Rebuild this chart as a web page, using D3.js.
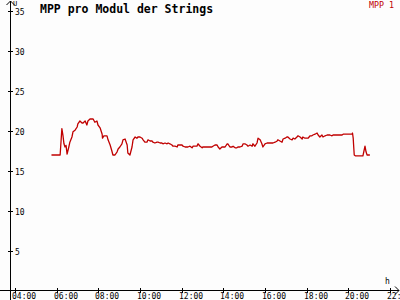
<!DOCTYPE html>
<html>
<head>
<meta charset="utf-8">
<script src="https://cdn.jsdelivr.net/npm/d3@7"></script>
<style>
  body { margin: 0; background: #fff; }
  text { font-family: "DejaVu Sans Mono", monospace; }
</style>
</head>
<body>
<div id="chart"></div>
<script>
var width = 400,
    height = 300;

// tick labels
var xTickHours = [4, 6, 8, 10, 12, 14, 16, 18, 20, 22];
var yTickValues = [5, 10, 15, 20, 25, 30, 35];

// MPP 1 series (time, volts)
var times = [
  "05:45","06:10","06:15","06:18","06:21","06:24","06:27","06:30","06:35","06:38",
  "06:44","06:47","06:53","06:59","07:01","07:07","07:13","07:16","07:22","07:27",
  "07:30","07:36","07:42","07:45","07:50","07:56","07:59","08:05","08:11","08:12",
  "08:16","08:25","08:28","08:34","08:39","08:42","08:48","08:54","08:57","09:02",
  "09:08","09:11","09:17","09:23","09:25","09:31","09:37","09:40","09:46","09:51",
  "09:54","10:00","10:06","10:09","10:14","10:20","10:23","10:29","10:35","10:37",
  "10:43","10:49","10:52","10:58","11:03","11:06","11:12","11:18","11:21","11:26",
  "11:32","11:35","11:41","11:47","11:49","11:55","12:01","12:04","12:10","12:15",
  "12:18","12:24","12:30","12:33","12:38","12:44","12:47","12:53","12:59","13:01",
  "13:07","13:13","13:16","13:22","13:27","13:30","13:36","13:42","13:45","13:50",
  "13:56","13:59","14:05","14:11","14:13","14:19","14:25","14:28","14:34","14:39",
  "14:42","14:48","14:54","14:57","15:02","15:08","15:11","15:17","15:23","15:25",
  "15:31","15:37","15:40","15:46","15:51","15:54","16:00","16:06","16:09","16:14",
  "16:20","16:23","16:29","16:35","16:37","16:43","16:49","16:52","16:58","17:03",
  "17:06","17:12","17:18","17:21","17:26","17:32","17:35","17:41","17:47","17:49",
  "17:55","18:01","18:04","18:10","18:15","18:18","18:24","18:30","18:33","18:38",
  "18:44","18:47","18:53","18:59","19:07","19:13","19:16","19:42","19:45","20:11",
  "20:12","20:14","20:17","20:20","20:42","20:45","20:48","20:51","20:54","21:02"
];
var mpp1 = [
  17.0,17.0,20.3,19.5,18.4,18.0,18.2,17.1,18.0,18.6,
  19.25,19.9,20.1,20.5,20.9,21.25,21.0,21.0,21.25,20.75,
  21.25,21.5,21.5,21.5,21.1,21.25,20.75,20.4,19.6,19.1,
  19.4,19.4,18.9,18.25,17.5,17.0,17.0,17.4,17.75,18.0,
  18.4,18.9,19.0,18.25,17.25,17.0,18.0,18.9,19.25,19.1,
  19.25,19.25,19.1,18.9,18.6,18.6,18.9,18.75,18.75,18.6,
  18.5,18.6,18.6,18.5,18.5,18.4,18.5,18.4,18.5,18.4,
  18.25,18.1,18.1,18.0,18.25,18.25,18.25,18.1,18.0,18.0,
  18.0,18.1,17.9,18.1,18.1,18.1,18.4,18.1,17.9,18.0,
  18.0,18.0,18.0,18.0,18.0,18.1,18.25,18.25,18.0,17.75,
  18.0,18.0,18.0,18.4,18.4,18.0,18.0,18.1,17.9,17.9,
  18.0,18.0,18.1,18.4,18.4,18.25,18.1,18.25,18.1,18.4,
  18.1,18.5,19.1,18.9,18.4,18.0,18.4,18.5,18.5,18.5,
  18.5,18.5,18.6,18.75,18.9,18.75,18.6,19.0,19.1,19.25,
  19.25,19.0,18.9,19.1,19.0,19.25,19.4,19.25,19.0,19.25,
  19.1,19.1,19.1,19.4,19.4,19.5,19.6,19.75,19.5,19.25,
  19.5,19.25,19.4,19.5,19.5,19.4,19.5,19.5,19.6,19.6,
  19.75,19.1,17.0,16.9,16.9,17.5,18.1,17.4,17.0,17.0
];

function toHours(s) {
    var p = s.split(":");
    return +p[0] + +p[1] / 60;
}

var data = times.map(function (t, i) { return { h: toHours(t), v: mpp1[i] }; });

var svg = d3.select("#chart")
    .append("svg")
    .attr("width", width)
    .attr("height", height)
    .style("display", "block");

svg.append("rect")
    .attr("width", width)
    .attr("height", height)
    .attr("fill", "#fdfdfd");

var x = d3.scaleLinear().domain([4, 22]).range([15, 390]);
var y = d3.scaleLinear().domain([0, 35]).range([291, 11]);

var axisX = 10,
    axisY = 290;

// y axis line with arrow
svg.append("line")
    .attr("x1", axisX + 0.5).attr("x2", axisX + 0.5)
    .attr("y1", 1).attr("y2", height)
    .attr("stroke", "#000")
    .attr("shape-rendering", "crispEdges");
svg.append("path")
    .attr("d", "M" + (axisX - 3.5) + ",5 L" + (axisX + 0.5) + ",1 L" + (axisX + 4.5) + ",5")
    .attr("fill", "none")
    .attr("stroke", "#000");

// x axis line with arrow
svg.append("line")
    .attr("x1", 0).attr("x2", 399)
    .attr("y1", axisY + 0.5).attr("y2", axisY + 0.5)
    .attr("stroke", "#000")
    .attr("shape-rendering", "crispEdges");
svg.append("path")
    .attr("d", "M395," + (axisY - 3.5) + " L399," + (axisY + 0.5) + " L395," + (axisY + 4.5))
    .attr("fill", "none")
    .attr("stroke", "#000");

// y ticks
var yt = svg.append("g").selectAll("g")
    .data(yTickValues)
    .enter().append("g")
    .attr("transform", function (d) { return "translate(0," + Math.round(y(d)) + ")"; });
yt.append("line")
    .attr("x1", axisX - 2).attr("x2", axisX + 3)
    .attr("y1", 0.5).attr("y2", 0.5)
    .attr("stroke", "#000")
    .attr("shape-rendering", "crispEdges");
yt.append("text")
    .attr("x", axisX + 5)
    .attr("y", 3.5)
    .attr("font-size", "8px")
    .attr("fill", "#000")
    .text(function (d) { return d; });

// x ticks
var xt = svg.append("g").selectAll("g")
    .data(xTickHours)
    .enter().append("g")
    .attr("transform", function (d) { return "translate(" + Math.round(x(d)) + ",0)"; });
xt.append("line")
    .attr("x1", 0.5).attr("x2", 0.5)
    .attr("y1", axisY - 2).attr("y2", axisY + 3)
    .attr("stroke", "#000")
    .attr("shape-rendering", "crispEdges");
xt.append("text")
    .attr("x", -3)
    .attr("y", 299)
    .attr("font-size", "8px")
    .attr("fill", "#000")
    .text(function (d) { return d3.format("02d")(d) + ":00"; });

// axis names
svg.append("text")
    .attr("x", 13).attr("y", 6)
    .attr("font-size", "7px")
    .text("U");
svg.append("text")
    .attr("x", 385).attr("y", 284)
    .attr("font-size", "8px")
    .text("h");

// title
svg.append("text")
    .attr("x", 40).attr("y", 13)
    .attr("font-size", "11.5px")
    .attr("font-weight", "bold")
    .attr("fill", "#000")
    .text("MPP pro Modul der Strings");

// legend
svg.append("text")
    .attr("x", 394).attr("y", 8)
    .attr("text-anchor", "end")
    .attr("font-size", "8.3px")
    .attr("fill", "#c00000")
    .text("MPP 1");

// series
var line = d3.line()
    .x(function (d) { return x(d.h); })
    .y(function (d) { return y(d.v); });

svg.append("path")
    .datum(data)
    .attr("d", line)
    .attr("fill", "none")
    .attr("stroke", "#c00000")
    .attr("stroke-width", 1.3)
    .attr("stroke-linejoin", "round");
</script>
</body>
</html>
